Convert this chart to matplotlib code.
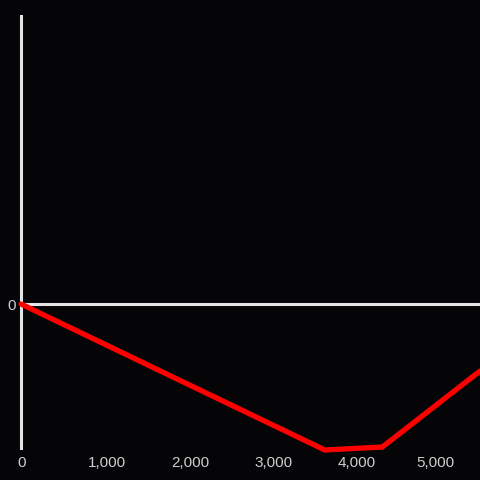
import matplotlib
matplotlib.use("Agg")
import matplotlib.pyplot as plt
from matplotlib.transforms import ScaledTranslation

# series values (y in arbitrary units, 0 baseline)
x_vals = [0, 3640, 4330, 5500]
y_vals = [0, -146, -143, -67]

x_ticks = [0, 1000, 2000, 3000, 4000, 5000]
x_labels = ["0", "1,000", "2,000", "3,000", "4,000", "5,000"]

bg = "#050407"
axis_col = "#e4e4e4"
text_col = "#cfcfcf"

plt.rcParams["font.family"] = ["Liberation Sans", "DejaVu Sans"]

fig = plt.figure(figsize=(4.8, 4.8), dpi=100, facecolor=bg)
ax = fig.add_axes([21 / 480, 32 / 480, 459 / 480, 432 / 480])
ax.set_facecolor(bg)

ax.set_xlim(0, 5500)
ax.set_ylim(-144, 288)

ax.axhline(0, color=axis_col, lw=2.2, zorder=2)
ax.plot(x_vals, y_vals, color="#ff0000", lw=3.8, solid_capstyle="round",
        solid_joinstyle="miter", clip_on=False, zorder=3)

for s in ["top", "right", "bottom"]:
    ax.spines[s].set_visible(False)
ax.spines["left"].set_color(axis_col)
ax.spines["left"].set_linewidth(2.2)

ax.set_xticks(x_ticks)
ax.set_xticklabels(x_labels)
ax.set_yticks([0])
ax.set_yticklabels(["0"])
ax.tick_params(axis="both", length=0, colors=text_col, labelsize=11)
ax.tick_params(axis="x", pad=6)
ax.tick_params(axis="y", pad=4)

# small nudges so the labels sit like the original (last one kept inside)
nudges = [0.7, 2.2, 2.9, 2.4, 1.9, -3.0]
for lab, dx in zip(ax.get_xticklabels(), nudges):
    lab.set_transform(lab.get_transform() + ScaledTranslation(dx / 100, 0, fig.dpi_scale_trans))

fig.savefig("out.png", dpi=100, facecolor=bg)
